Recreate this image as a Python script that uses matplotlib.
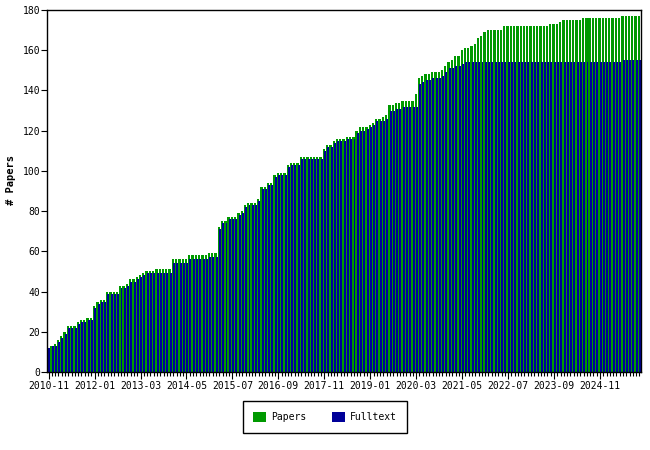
import matplotlib
matplotlib.use("Agg")
import matplotlib.pyplot as plt
import pandas as pd

# monthly cumulative counts, 2010-11 .. 2025-11
start_month = "2010-11"
papers = [
    12, 13, 14, 16, 18, 20, 23, 23, 23, 25, 26, 26, 27, 27, 33,
    35, 36, 36, 40, 40, 40, 40, 43, 43, 44, 46, 46, 47, 48, 49,
    50, 50, 50, 51, 51, 51, 51, 51, 56, 56, 56, 56, 56, 58, 58,
    58, 58, 58, 58, 59, 59, 59, 72, 75, 75, 77, 77, 77, 79, 80,
    83, 84, 84, 84, 86, 92, 92, 94, 94, 98, 99, 99, 99, 103, 104,
    104, 104, 107, 107, 107, 107, 107, 107, 107, 111, 113, 113, 115, 116, 116,
    116, 117, 117, 117, 120, 122, 122, 122, 123, 124, 126, 126, 127, 128, 133,
    133, 134, 134, 135, 135, 135, 135, 138, 146, 147, 148, 148, 149, 149, 149,
    150, 152, 154, 155, 157, 157, 160, 161, 161, 162, 163, 166, 167, 169, 170,
    170, 170, 170, 170, 172, 172, 172, 172, 172, 172, 172, 172, 172, 172, 172,
    172, 172, 172, 173, 173, 173, 174, 175, 175, 175, 175, 175, 175, 176, 176,
    176, 176, 176, 176, 176, 176, 176, 176, 176, 176, 177, 177, 177, 177, 177,
    177,
]
fulltext = [
    12, 13, 13, 15, 17, 19, 22, 22, 22, 24, 25, 25, 26, 26, 32,
    34, 35, 35, 39, 39, 39, 39, 42, 42, 43, 45, 45, 46, 47, 48,
    49, 49, 49, 49, 49, 49, 49, 49, 54, 54, 54, 54, 54, 56, 56,
    56, 56, 56, 56, 57, 57, 57, 71, 74, 74, 76, 76, 76, 78, 79,
    82, 83, 83, 83, 85, 91, 91, 93, 93, 97, 98, 98, 98, 102, 103,
    103, 103, 106, 106, 106, 106, 106, 106, 106, 110, 112, 112, 114, 115, 115,
    115, 116, 116, 116, 119, 120, 120, 121, 122, 123, 125, 125, 125, 126, 130,
    130, 131, 131, 132, 132, 132, 132, 132, 143, 144, 145, 145, 146, 146, 146,
    147, 149, 151, 151, 152, 152, 153, 154, 154, 154, 154, 154, 154, 154, 154,
    154, 154, 154, 154, 154, 154, 154, 154, 154, 154, 154, 154, 154, 154, 154,
    154, 154, 154, 154, 154, 154, 154, 154, 154, 154, 154, 154, 154, 154, 154,
    154, 154, 154, 154, 154, 154, 154, 154, 154, 154, 155, 155, 155, 155, 155,
    155,
]
months = pd.date_range(start_month, periods=len(papers), freq="MS").strftime("%Y-%m").tolist()
label_every = 14
y_ticks = [0, 20, 40, 60, 80, 100, 120, 140, 160, 180]

GREEN = "#009900"
BLUE = "#000099"

plt.rcParams["font.family"] = "DejaVu Sans Mono"
plt.rcParams["font.size"] = 7

fig = plt.figure(figsize=(6.5, 4.5), dpi=100)
ax = fig.add_axes([47 / 650, 78 / 450, 594 / 650, 362 / 450])

xs = list(range(len(months)))
# green sits left in each month slot, blue overlaps it on the right
ax.bar([x - 0.5 for x in xs], papers, width=0.7, align="edge",
       color=GREEN, linewidth=0, antialiased=False, label="Papers")
ax.bar([x - 0.1 for x in xs], fulltext, width=0.6, align="edge",
       color=BLUE, linewidth=0, antialiased=False, label="Fulltext")

ax.set_xlim(-0.5, len(months) - 0.5)
ax.set_ylim(0, 180)
ax.set_yticks(y_ticks)
ax.set_xticks(xs[::label_every])
ax.set_xticklabels(months[::label_every])
ax.set_xticks(xs, minor=True)

for s in ax.spines.values():
    s.set_linewidth(1.0)
ax.tick_params(axis="y", length=4, width=0.8, pad=1, labelsize=7)
ax.tick_params(axis="x", which="major", length=5, width=0.8, pad=1.5, labelsize=7)
ax.tick_params(axis="x", which="minor", length=3, width=0.8)

fig.text(11.5 / 650, 1 - 180 / 450, "# Papers", rotation=90, fontweight="bold",
         fontsize=7.5, ha="center", va="center")

leg = fig.legend(loc="center", bbox_to_anchor=(325 / 650, 1 - 417 / 450), ncol=2,
                 frameon=True, fancybox=False, edgecolor="black", framealpha=1,
                 handlelength=1.35, handleheight=1.35, handletextpad=0.5,
                 columnspacing=2.6, borderpad=1.1, fontsize=7)
leg.get_frame().set_linewidth(1.0)

fig.savefig("out.png", dpi=100)
